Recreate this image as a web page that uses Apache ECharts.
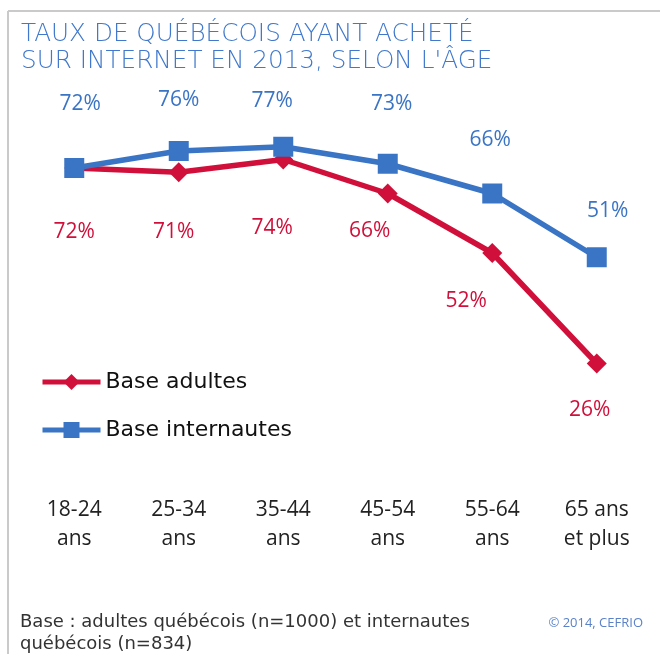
<!DOCTYPE html>
<html>
<head>
<meta charset="utf-8">
<script src="https://cdn.jsdelivr.net/npm/echarts@6/dist/echarts.min.js"></script>
<style>
  html, body { margin: 0; padding: 0; background: #fff; }
  #chart { width: 660px; height: 654px; }
</style>
</head>
<body>
<div id="chart"></div>
<script>
// données
const ageGroups = ["18-24\nans", "25-34\nans", "35-44\nans", "45-54\nans", "55-64\nans", "65 ans\net plus"];
const baseAdultes = [72, 71, 74, 66, 52, 26];
const baseInternautes = [72, 76, 77, 73, 66, 51];

// décalages des étiquettes (x, y) par point
const adultesLabelOffset = [[0, 64], [-5, 60], [-11, 69], [-18, 38], [-26, 48], [-7, 47]];
const internautesLabelOffset = [[6, -64], [0, -51], [-11, -46], [4, -60], [-2, -53], [11, -46]];

const FONT = "Open Sans";
const WIDE = "DejaVu Sans";
const RED = "#d0103a";
const BLUE = "#3a74c5";

const chart = echarts.init(document.getElementById("chart"));

function withLabels(values, offsets) {
  return values.map((v, i) => ({
    value: v,
    label: { offset: offsets[i] }
  }));
}

const option = {
  animation: false,
  title: [
    {
      text: "TAUX DE QUÉBÉCOIS AYANT ACHETÉ\nSUR INTERNET EN 2013, SELON L'ÂGE",
      left: 16,
      top: 16,
      textStyle: { fontFamily: WIDE, fontWeight: 200, fontSize: 24.7, lineHeight: 27, color: "#3f78cc" }
    },
    {
      text: "Base : adultes québécois (n=1000) et internautes\nquébécois (n=834)",
      left: 15,
      top: 606,
      textStyle: { fontFamily: WIDE, fontWeight: "normal", fontSize: 18, lineHeight: 22, color: "#333" }
    },
    {
      text: "© 2014, CEFRIO",
      right: 12,
      top: 612,
      textStyle: { fontFamily: FONT, fontWeight: "normal", fontSize: 13, color: "#5b82c6" }
    }
  ],
  graphic: [
    { type: "line", shape: { x1: 8, y1: 11, x2: 660, y2: 11 }, style: { stroke: "#cacaca", lineWidth: 2 } },
    { type: "line", shape: { x1: 8, y1: 11, x2: 8, y2: 654 }, style: { stroke: "#cacaca", lineWidth: 2 } }
  ],
  legend: {
    orient: "vertical",
    left: 35,
    top: 366,
    itemWidth: 58,
    itemHeight: 20,
    itemGap: 26,
    data: ["Base adultes", "Base internautes"],
    lineStyle: { width: 5 },
    textStyle: { fontFamily: WIDE, fontSize: 22, color: "#111" }
  },
  grid: { left: 22, right: 11, top: 49, bottom: 180 },
  xAxis: {
    type: "category",
    data: ageGroups,
    boundaryGap: true,
    axisLine: { show: false },
    axisTick: { show: false },
    axisLabel: { margin: 22, fontFamily: FONT, fontSize: 21, lineHeight: 29, color: "#222", interval: 0 }
  },
  yAxis: {
    type: "value",
    min: 0,
    max: 100,
    show: false,
    splitLine: { show: false }
  },
  series: [
    {
      name: "Base adultes",
      type: "line",
      data: withLabels(baseAdultes, adultesLabelOffset),
      symbol: "diamond",
      symbolSize: 20,
      lineStyle: { color: RED, width: 5.5 },
      itemStyle: { color: RED },
      label: {
        show: true,
        position: "inside",
        formatter: "{c}%",
        fontFamily: FONT,
        fontSize: 21,
        color: RED
      }
    },
    {
      name: "Base internautes",
      type: "line",
      data: withLabels(baseInternautes, internautesLabelOffset),
      symbol: "rect",
      symbolSize: 20,
      lineStyle: { color: BLUE, width: 5.5 },
      itemStyle: { color: BLUE },
      label: {
        show: true,
        position: "inside",
        formatter: "{c}%",
        fontFamily: FONT,
        fontSize: 21,
        color: BLUE
      }
    }
  ]
};

chart.setOption(option);
</script>
</body>
</html>
